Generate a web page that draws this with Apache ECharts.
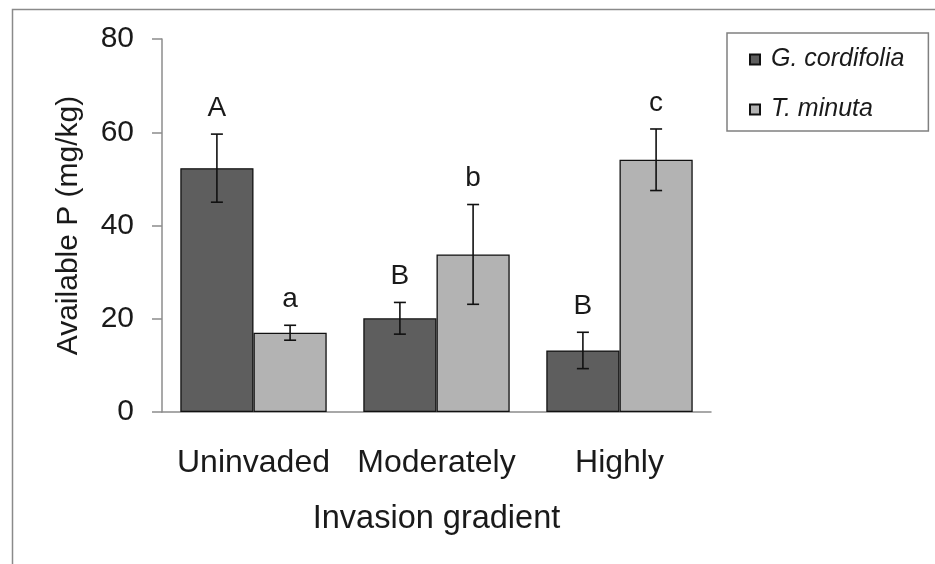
<!DOCTYPE html>
<html>
<head>
<meta charset="utf-8">
<script src="https://cdn.jsdelivr.net/npm/echarts@6/dist/echarts.min.js"></script>
<style>
  html, body { margin: 0; padding: 0; background: #fff; }
  #chart { width: 935px; height: 564px; }
</style>
</head>
<body>
<div id="chart"></div>
<script>
// Available phosphorus in soil along the invasion gradient
const categories = ['Uninvaded', 'Moderately', 'Highly'];
const seriesNames = ['G. cordifolia', 'T. minuta'];
const gCordifolia = [52.3, 20.1, 13.2];
const tMinuta = [17.0, 33.8, 54.1];
const gCordifoliaErr = [7.3, 3.4, 3.9];
const tMinutaErr = [1.6, 10.7, 6.6];
const gCordifoliaLetters = ['A', 'B', 'B'];
const tMinutaLetters = ['a', 'b', 'c'];
const yMin = 0, yMax = 80, yStep = 20;

const FONT = '"Liberation Sans", Arial, sans-serif';
const DARK = '#5e5e5e';
const LIGHT = '#b3b3b3';
const AXIS = '#8c8c8c';

// error bars + significance letters, offset to the centre of each bar
function errorSeries(means, errs, letters, side) {
  return {
    type: 'custom',
    z: 10,
    data: means.map((m, i) => [i, m, errs[i]]),
    renderItem: function (params, api) {
      const idx = api.value(0);
      const mean = api.value(1);
      const err = api.value(2);
      const bandW = api.size([1, 0])[0];
      const dx = side * bandW * 0.2;
      const top = api.coord([idx, mean + err]);
      const bot = api.coord([idx, mean - err]);
      const x = top[0] + dx;
      const cap = 6;
      const style = { stroke: '#111', lineWidth: 1.6 };
      return {
        type: 'group',
        children: [
          { type: 'line', shape: { x1: x, y1: top[1], x2: x, y2: bot[1] }, style: style },
          { type: 'line', shape: { x1: x - cap, y1: top[1], x2: x + cap, y2: top[1] }, style: style },
          { type: 'line', shape: { x1: x - cap, y1: bot[1], x2: x + cap, y2: bot[1] }, style: style },
          {
            type: 'text',
            style: {
              x: x, y: top[1] - 12,
              text: letters[params.dataIndex],
              textAlign: 'center', textVerticalAlign: 'bottom',
              font: '28px ' + FONT, fill: '#1a1a1a'
            }
          }
        ]
      };
    }
  };
}

const chart = echarts.init(document.getElementById('chart'), null, { renderer: 'canvas' });
chart.setOption({
  backgroundColor: '#ffffff',
  animation: false,
  graphic: [{
    type: 'rect',
    left: 10, top: 7,
    shape: { width: 1000, height: 1000 },
    style: { fill: 'none', stroke: '#8a8a8a', lineWidth: 1.5 },
    silent: true
  }],
  grid: { left: 162, right: 224, top: 39, bottom: 152, containLabel: false },
  legend: {
    left: 727, top: 33,
    orient: 'vertical',
    padding: [14, 24, 9, 22],
    itemGap: 25,
    itemWidth: 10, itemHeight: 10,
    borderColor: '#808080', borderWidth: 1.5,
    icon: 'rect',
    textStyle: { fontFamily: FONT, fontSize: 25, fontStyle: 'italic', color: '#1a1a1a', padding: [0, 0, 0, 6] },
    data: seriesNames
  },
  xAxis: {
    type: 'category',
    data: categories,
    name: 'Invasion gradient',
    nameLocation: 'middle',
    nameGap: 91,
    nameTextStyle: { fontFamily: FONT, fontSize: 32.5, color: '#1a1a1a' },
    axisLine: { lineStyle: { color: AXIS, width: 1.5 } },
    axisTick: { length: 10, lineStyle: { color: AXIS, width: 1.5 } },
    axisLabel: { interval: 0, hideOverlap: false, fontFamily: FONT, fontSize: 32, color: '#1a1a1a', margin: 35 }
  },
  yAxis: {
    type: 'value',
    min: yMin, max: yMax, interval: yStep,
    name: 'Available P (mg/kg)',
    nameLocation: 'middle',
    nameGap: 78,
    nameTextStyle: { fontFamily: FONT, fontSize: 30, color: '#1a1a1a' },
    axisLine: { show: true, lineStyle: { color: AXIS, width: 1.5 } },
    axisTick: { show: true, length: 10, lineStyle: { color: AXIS, width: 1.5 } },
    splitLine: { show: false },
    axisLabel: { fontFamily: FONT, fontSize: 30, color: '#1a1a1a', margin: 28 }
  },
  series: [
    {
      name: seriesNames[0], type: 'bar', data: gCordifolia,
      barGap: '0%', barCategoryGap: '20%',
      itemStyle: { color: DARK, borderColor: '#111', borderWidth: 1.3 }
    },
    {
      name: seriesNames[1], type: 'bar', data: tMinuta,
      barGap: '0%', barCategoryGap: '20%',
      itemStyle: { color: LIGHT, borderColor: '#111', borderWidth: 1.3 }
    },
    errorSeries(gCordifolia, gCordifoliaErr, gCordifoliaLetters, -1),
    errorSeries(tMinuta, tMinutaErr, tMinutaLetters, 1)
  ]
});
</script>
</body>
</html>
